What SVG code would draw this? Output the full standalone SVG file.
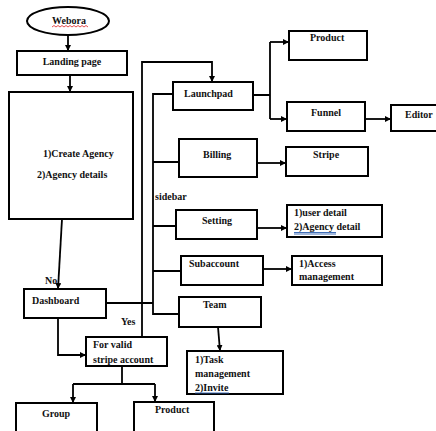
<svg xmlns="http://www.w3.org/2000/svg" width="436" height="431" viewBox="0 0 436 431">
<defs>
<style>
.box{fill:#fff;stroke:#000;stroke-width:2}
.c{fill:none;stroke:#000;stroke-width:1.8}
.arr{marker-end:url(#ah)}
text{font-family:"Liberation Serif","Times New Roman",serif;font-weight:bold;font-size:10px;fill:#111}
.m{text-anchor:middle}
.ul{stroke:#2b5fb0;stroke-width:0.9;fill:none}
</style>
<marker id="ah" viewBox="0 0 6 6" refX="6" refY="3" markerWidth="6" markerHeight="6" markerUnits="userSpaceOnUse" orient="auto">
<path d="M0,0 L6,3 L0,6 Z" fill="#000"/>
</marker>
</defs>
<rect width="436" height="431" fill="#fff"/>

<g id="connectors">
<line class="c arr" x1="68" y1="35" x2="68" y2="51"/>
<line class="c arr" x1="70" y1="75" x2="70" y2="92"/>
<line class="c arr" x1="62" y1="219" x2="58" y2="289"/>
<path class="c arr" d="M58,318 V355 H86"/>
<path class="c" d="M122,366 V384 M73,384 H155"/>
<line class="c arr" x1="73" y1="384" x2="73" y2="403"/>
<line class="c arr" x1="155" y1="384" x2="155" y2="402"/>
<path class="c arr" d="M142,337 V62 H212 V82"/>
<path class="c" d="M106,303 H153"/>
<path class="c" d="M173,94 H153 V314 H179 M153,162 H179 M153,226 H176 M153,271 H181"/>
<path class="c" d="M253,95 H270 M270,42 V119"/>
<line class="c arr" x1="270" y1="42" x2="289" y2="42"/>
<line class="c arr" x1="270" y1="119" x2="287" y2="119"/>
<line class="c arr" x1="362" y1="119" x2="391" y2="119"/>
<line class="c arr" x1="257" y1="163" x2="286" y2="163"/>
<line class="c arr" x1="257" y1="228" x2="287" y2="228"/>
<line class="c arr" x1="263" y1="269" x2="292" y2="269"/>
<line class="c arr" x1="218" y1="327" x2="220" y2="351"/>
</g>

<g id="webora">
<ellipse cx="68" cy="21" rx="41" ry="14" fill="#fff" stroke="#000" stroke-width="2"/>
<text class="m" x="69" y="24">Webora</text>
<path d="M52,27 l2,-1.5 l2,1.5 l2,-1.5 l2,1.5 l2,-1.5 l2,1.5 l2,-1.5 l2,1.5 l2,-1.5 l2,1.5 l2,-1.5 l2,1.5 l2,-1.5 l2,1.5 l2,-1.5 l2,1.5 l2,-1.5 l2,1.5" fill="none" stroke="#d22" stroke-width="0.8"/>
</g>

<g id="landing">
<rect class="box" x="17" y="51" width="110" height="24"/>
<text class="m" x="72" y="65">Landing page</text>
</g>

<g id="agency">
<rect class="box" x="9" y="92" width="124" height="127"/>
<text x="43" y="157">1)Create Agency</text>
<text x="37" y="178">2)Agency details</text>
</g>

<text x="45" y="284">No</text>

<g id="dashboard">
<rect class="box" x="24" y="289" width="82" height="29"/>
<text x="32" y="304">Dashboard</text>
</g>

<text x="121" y="325">Yes</text>

<g id="validstripe">
<rect class="box" x="86" y="337" width="81" height="29"/>
<text x="93" y="348">For valid</text>
<text x="93" y="363">stripe account</text>
</g>

<g id="group">
<rect class="box" x="16" y="403" width="81" height="40"/>
<text x="42" y="417">Group</text>
</g>

<g id="product2">
<rect class="box" x="134" y="402" width="80" height="40"/>
<text x="155" y="413">Product</text>
</g>

<g id="launchpad">
<rect class="box" x="173" y="82" width="80" height="28"/>
<text x="184" y="97">Launchpad</text>
</g>

<g id="product">
<rect class="box" x="289" y="31" width="78" height="29"/>
<text x="310" y="41">Product</text>
</g>

<g id="funnel">
<rect class="box" x="287" y="102" width="78" height="29"/>
<text x="311" y="116">Funnel</text>
</g>

<g id="editor">
<rect class="box" x="391" y="105" width="50" height="26"/>
<text x="405" y="118">Editor</text>
</g>

<text x="155" y="200">sidebar</text>

<g id="billing">
<rect class="box" x="179" y="139" width="78" height="38"/>
<text x="203" y="158">Billing</text>
</g>

<g id="stripe">
<rect class="box" x="286" y="147" width="82" height="29"/>
<text x="313" y="158">Stripe</text>
</g>

<g id="setting">
<rect class="box" x="176" y="210" width="81" height="29"/>
<text x="202" y="224">Setting</text>
</g>

<g id="details">
<rect class="box" x="287" y="205" width="95" height="32"/>
<text x="294" y="216">1)user detail</text>
<text x="294" y="230">2)Agency detail</text>
<path class="ul" d="M294,232.5 H336 M294,234 H336"/>
</g>

<g id="subaccount">
<rect class="box" x="181" y="256" width="82" height="29"/>
<text x="189" y="267">Subaccount</text>
</g>

<g id="access">
<rect class="box" x="292" y="256" width="90" height="29"/>
<text x="299" y="267">1)Access</text>
<text x="299" y="280">management</text>
</g>

<g id="team">
<rect class="box" x="179" y="297" width="82" height="30"/>
<text x="203" y="308">Team</text>
</g>

<g id="task">
<rect class="box" x="187" y="351" width="96" height="43"/>
<text x="195" y="363">1)Task</text>
<text x="195" y="377">management</text>
<text x="195" y="391">2)Invite</text>
<path class="ul" d="M195,393 H229"/>
</g>
</svg>
